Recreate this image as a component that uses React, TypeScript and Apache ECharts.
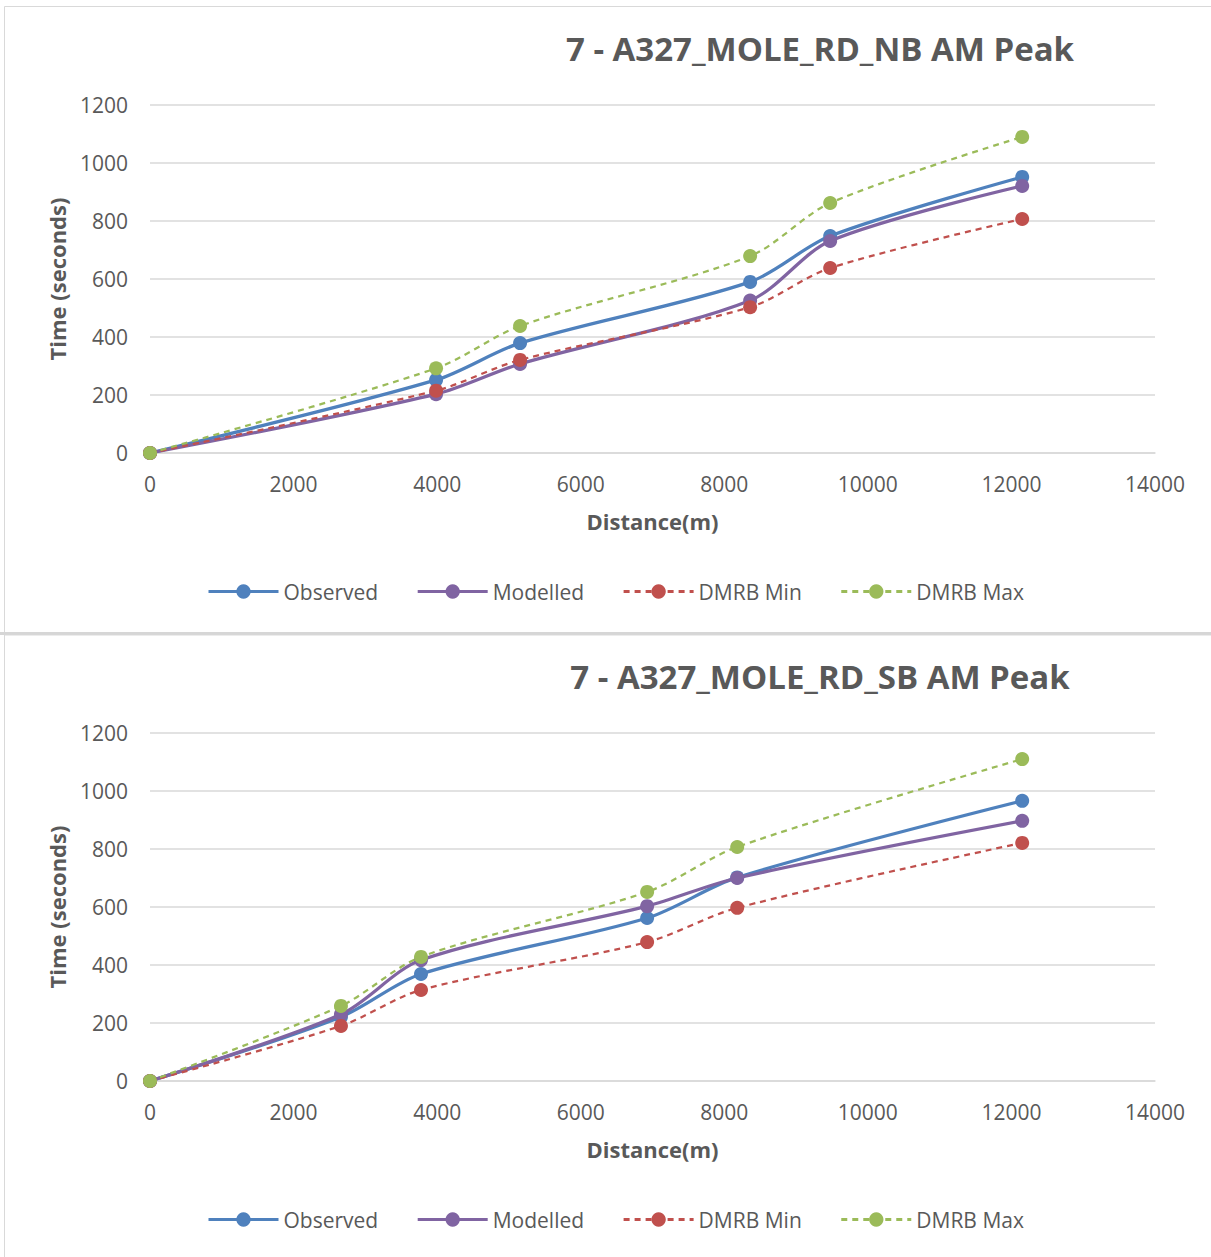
import React, { useEffect, useRef } from "react";
import * as echarts from "echarts";

// NB (top chart)
const nbDistance = [0, 3985, 5155, 8360, 9475, 12150];
const nbObserved = [0, 252, 379, 590, 748, 952];
const nbModelled = [0, 203, 307, 526, 731, 921];
const nbMin = [0, 215, 321, 503, 638, 807];
const nbMax = [0, 292, 438, 679, 862, 1090];

// SB (bottom chart)
const sbDistance = [0, 2660, 3775, 6925, 8180, 12150];
const sbObserved = [0, 221, 369, 562, 702, 966];
const sbModelled = [0, 230, 417, 603, 700, 897];
const sbMin = [0, 190, 314, 479, 597, 821];
const sbMax = [0, 259, 428, 652, 807, 1110];

const titles = ["7 - A327_MOLE_RD_NB AM Peak", "7 - A327_MOLE_RD_SB AM Peak"];
const seriesNames = ["Observed", "Modelled", "DMRB Min", "DMRB Max"];
const colors = ["#4f81bd", "#8064a2", "#c0504d", "#9bbb59"];
const xTitle = "Distance(m)";
const yTitle = "Time (seconds)";

const FONT = "Open Sans";
const TEXT = "#595959";
const GRIDC = "#d9d9d9";

const zip = (xs: number[], ys: number[]) => xs.map((x, i) => [x, ys[i]]);

export default function App() {
  const ref = useRef<HTMLDivElement>(null);
  useEffect(() => {
    if (!ref.current) return;
    const chart = echarts.init(ref.current, null, { renderer: "svg" });
    const panels = [
      { top: 105, dist: nbDistance, vals: [nbObserved, nbModelled, nbMin, nbMax] },
      { top: 733, dist: sbDistance, vals: [sbObserved, sbModelled, sbMin, sbMax] },
    ];
    const grid: any[] = [];
    const xAxis: any[] = [];
    const yAxis: any[] = [];
    const series: any[] = [];
    const title: any[] = [];
    const legend: any[] = [];
    panels.forEach((p, pi) => {
      grid.push({ left: 150, right: 56, top: p.top, height: 348 });
      title.push({
        text: titles[pi],
        left: 815,
        top: p.top - 78,
        textAlign: "center",
        textStyle: { fontFamily: FONT, fontSize: 33, fontWeight: "bold", color: TEXT },
      });
      xAxis.push({
        type: "value",
        gridIndex: pi,
        min: 0,
        max: 14000,
        interval: 2000,
        name: xTitle,
        nameLocation: "middle",
        nameGap: 57,
        nameTextStyle: { fontFamily: FONT, fontSize: 22, fontWeight: "bold", color: TEXT },
        axisLine: { show: true, lineStyle: { color: GRIDC, width: 1.5 } },
        axisTick: { show: false },
        splitLine: { show: false },
        axisLabel: { fontFamily: FONT, fontSize: 21, color: TEXT, margin: 20, formatter: (v: number) => String(v) },
      });
      yAxis.push({
        type: "value",
        gridIndex: pi,
        min: 0,
        max: 1200,
        interval: 200,
        name: yTitle,
        nameLocation: "middle",
        nameGap: 82,
        nameTextStyle: { fontFamily: FONT, fontSize: 22, fontWeight: "bold", color: TEXT },
        axisLine: { show: false },
        axisTick: { show: false },
        splitLine: { show: true, lineStyle: { color: GRIDC, width: 1.5 } },
        axisLabel: { fontFamily: FONT, fontSize: 21, color: TEXT, margin: 22, formatter: (v: number) => String(v) },
      });
      legend.push({
        top: p.top + 476,
        left: 207,
        padding: 0,
        itemWidth: 70,
        itemHeight: 18,
        itemGap: 38,
        lineStyle: { width: 3 },
        textStyle: { fontFamily: FONT, fontSize: 21, color: TEXT },
        data: seriesNames.map((n) => ({ name: n })),
      });
      p.vals.forEach((v, si) => {
        const dashed = si >= 2;
        series.push({
          type: "line",
          name: seriesNames[si],
          xAxisIndex: pi,
          yAxisIndex: pi,
          data: zip(p.dist, v),
          smooth: 0.3,
          symbol: "circle",
          symbolSize: 14,
          color: colors[si],
          itemStyle: { color: colors[si] },
          lineStyle: { color: colors[si], width: dashed ? 2.25 : 3.25, type: dashed ? [6, 5] : "solid" },
          z: 2 + si,
        });
      });
    });
    chart.setOption({
      animation: false,
      backgroundColor: "#ffffff",
      title,
      grid,
      xAxis,
      yAxis,
      legend,
      series,
      graphic: [
        { type: "rect", shape: { x: 4.5, y: 6.5, width: 1220, height: 626 }, style: { fill: "none", stroke: GRIDC, lineWidth: 1 }, z: -1 },
        { type: "line", shape: { x1: 0, y1: 633.5, x2: 1211, y2: 633.5 }, style: { stroke: "#d6d6d6", lineWidth: 3 }, z: -1 },
        { type: "rect", shape: { x: 4.5, y: 635, width: 1220, height: 640 }, style: { fill: "none", stroke: GRIDC, lineWidth: 1 }, z: -1 },
      ],
    });
    return () => chart.dispose();
  }, []);
  return (
    <div style={{ position: "absolute", left: 0, top: 0, width: 1211, height: 1257 }}>
      <div ref={ref} style={{ width: 1211, height: 1257 }} />
    </div>
  );
}
